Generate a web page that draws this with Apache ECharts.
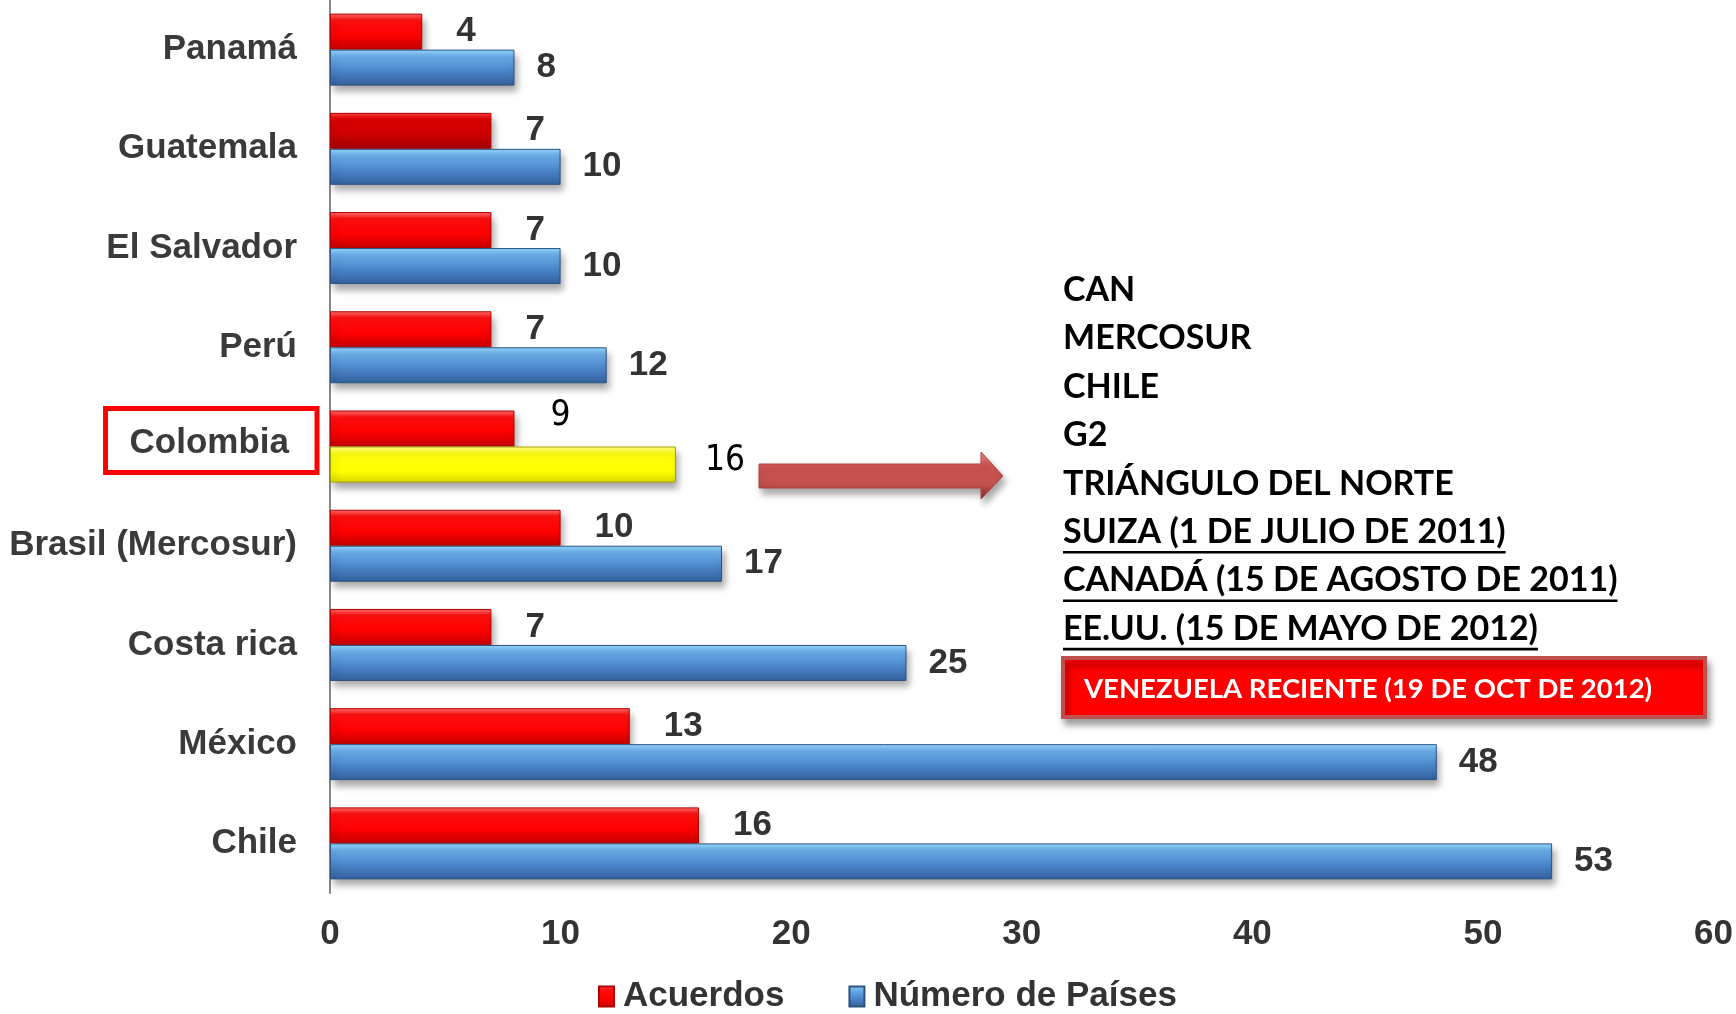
<!DOCTYPE html>
<html>
<head>
<meta charset="utf-8">
<script src="https://cdn.jsdelivr.net/npm/echarts@6/dist/echarts.min.js"></script>
<style>
  html, body { margin: 0; padding: 0; background: #fff; }
  #chart { width: 1736px; height: 1014px; }
</style>
</head>
<body>
<div id="chart"></div>
<script>
// data
const categories = ['Panamá', 'Guatemala', 'El Salvador', 'Perú', 'Colombia', 'Brasil (Mercosur)', 'Costa rica', 'México', 'Chile']
const acuerdos = [4, 7, 7, 7, 8, 10, 7, 13, 16]
const paises = [8, 10, 10, 12, 15, 17, 25, 48, 53]
// labels as printed (Colombia's were retyped over the bars)
const acuerdosLabels = ['4', '7', '7', '7', '9', '10', '7', '13', '16']
const paisesLabels = ['8', '10', '10', '12', '16', '17', '25', '48', '53']
const seriesNames = ['Acuerdos', 'Número de Países']
const notes = ['CAN', 'MERCOSUR', 'CHILE', 'G2', 'TRIÁNGULO DEL NORTE',
  'SUIZA (1 DE JULIO DE 2011)', 'CANADÁ (15 DE AGOSTO DE 2011)', 'EE.UU. (15 DE MAYO DE 2012)']
const notesUnderlined = [false, false, false, false, false, true, true, true]
const highlightNote = 'VENEZUELA RECIENTE (19 DE OCT DE 2012)'

const FONT = '"Liberation Sans", Arial, sans-serif'
const NARROW = '"Liberation Sans Narrow", "DejaVu Sans Condensed", sans-serif'
const NOTE_FONT = 'Lato, "Open Sans", sans-serif'

function grad(stops) {
  return new echarts.graphic.LinearGradient(0, 0, 0, 1, stops.map(c => ({ offset: c[0], color: c[1] })))
}
const redFill = grad([[0, '#ff7070'], [0.18, '#ff1010'], [0.6, '#ff0000'], [1, '#c40000']])
const darkRedFill = grad([[0, '#ff4040'], [0.18, '#e00000'], [0.6, '#cc0000'], [1, '#a00000']])
const blueFill = grad([[0, '#94d6ff'], [0.2, '#6aaeea'], [0.6, '#4a84c8'], [1, '#33609c']])
const yellowFill = grad([[0, '#ffff90'], [0.2, '#ffff10'], [0.7, '#ffff00'], [1, '#d8d800']])

const shadow = { shadowColor: 'rgba(0,0,0,0.35)', shadowBlur: 7, shadowOffsetX: 3, shadowOffsetY: 6 }

const editedLabel = {
  fontFamily: NARROW,
  fontWeight: 'normal',
  fontSize: 35,
  color: '#000'
}

const chart = echarts.init(document.getElementById('chart'))

// width of a note line, for the underline
const ctx = document.createElement('canvas').getContext('2d')
function textWidth(str, font) {
  ctx.font = font
  return ctx.measureText(str).width
}

const noteFont = 'bold 34px ' + NOTE_FONT
const noteX = 1063
const noteY0 = 294
const noteStep = 48.4
const noteGraphics = []
notes.forEach((t, i) => {
  const y = noteY0 + i * noteStep
  noteGraphics.push({
    type: 'text',
    left: noteX,
    top: y - 21,
    style: { text: t, font: noteFont, fill: '#000' }
  })
  if (notesUnderlined[i]) {
    noteGraphics.push({
      type: 'rect',
      shape: { x: noteX, y: y + 15, width: textWidth(t, noteFont), height: 2.6 },
      style: { fill: '#000' }
    })
  }
})

chart.setOption({
  animation: false,
  grid: {
    left: 330,
    right: 19,
    top: -2,
    height: 895
  },
  legend: {
    data: seriesNames,
    left: 593,
    top: 974,
    itemWidth: 15,
    itemHeight: 20,
    itemGap: 64,
    icon: 'rect',
    textStyle: {
      fontFamily: FONT,
      fontWeight: 'bold',
      fontSize: 35,
      color: '#333',
      padding: [0, 0, 0, 4]
    }
  },
  xAxis: {
    type: 'value',
    min: 0,
    max: 60,
    interval: 10,
    axisLine: { show: false },
    axisTick: { show: false },
    splitLine: { show: false },
    axisLabel: {
      margin: 24,
      fontFamily: FONT,
      fontWeight: 'bold',
      fontSize: 35,
      color: '#333'
    }
  },
  yAxis: {
    type: 'category',
    inverse: true,
    data: categories,
    axisLine: { show: true, lineStyle: { color: '#888', width: 2 } },
    axisTick: { show: false },
    axisLabel: {
      margin: 13,
      // Colombia sits in a red frame, lifted a little above its bars
      formatter: v => v === 'Colombia' ? '{box|' + v + '}\n{gap|}' : '{n|' + v + '}',
      rich: {
        n: {
          fontFamily: FONT,
          fontWeight: 'bold',
          fontSize: 35,
          color: '#3a3a3a',
          padding: [0, 20, 0, 0]
        },
        box: {
          fontFamily: FONT,
          fontWeight: 'bold',
          fontSize: 35,
          lineHeight: 40,
          color: '#3a3a3a',
          borderColor: '#ff0000',
          borderWidth: 5,
          padding: [17, 28, 12, 24]
        },
        gap: {
          height: 12,
          lineHeight: 12
        }
      }
    }
  },
  series: [{
    name: seriesNames[0],
    type: 'bar',
    barWidth: 36,
    barGap: '0%',
    data: acuerdos.map((v, i) => {
      const d = { value: v }
      if (categories[i] === 'Guatemala') d.itemStyle = { color: darkRedFill }
      if (categories[i] === 'Colombia') d.label = Object.assign({ offset: [2, -13] }, editedLabel)
      return d
    }),
    itemStyle: Object.assign({ color: redFill, borderColor: '#b00000', borderWidth: 1 }, shadow),
    label: {
      show: true,
      position: 'right',
      distance: 34,
      formatter: p => acuerdosLabels[p.dataIndex],
      fontFamily: FONT,
      fontWeight: 'bold',
      fontSize: 35,
      color: '#333'
    }
  }, {
    name: seriesNames[1],
    type: 'bar',
    barWidth: 36,
    barGap: '0%',
    data: paises.map((v, i) => {
      const d = { value: v }
      if (categories[i] === 'Colombia') {
        d.itemStyle = { color: yellowFill, borderColor: '#a0a000' }
        d.label = Object.assign({ offset: [7, -4] }, editedLabel)
      }
      return d
    }),
    itemStyle: Object.assign({ color: blueFill, borderColor: '#2f527f', borderWidth: 1 }, shadow),
    label: {
      show: true,
      position: 'right',
      distance: 22,
      formatter: p => paisesLabels[p.dataIndex],
      fontFamily: FONT,
      fontWeight: 'bold',
      fontSize: 35,
      color: '#333'
    }
  }],
  graphic: noteGraphics.concat([{
    // arrow from Colombia to the list
    type: 'polygon',
    shape: {
      points: [[759, 464], [981, 464], [981, 452], [1003, 476], [981, 499], [981, 488], [759, 488]]
    },
    style: Object.assign({
      fill: grad([[0, '#f08a88'], [0.3, '#d05552'], [0.7, '#c0504d'], [1, '#8c2a28']]),
      stroke: '#a84440',
      lineWidth: 1
    }, shadow)
  }, {
    type: 'rect',
    shape: { x: 1063, y: 658, width: 642, height: 59 },
    style: Object.assign({ fill: '#ff0000', stroke: '#c0504d', lineWidth: 4 }, shadow)
  }, {
    type: 'text',
    left: 1084,
    top: 675,
    style: { text: highlightNote, font: 'bold 27.5px ' + NOTE_FONT, fill: '#fff' }
  }])
})
</script>
</body>
</html>
